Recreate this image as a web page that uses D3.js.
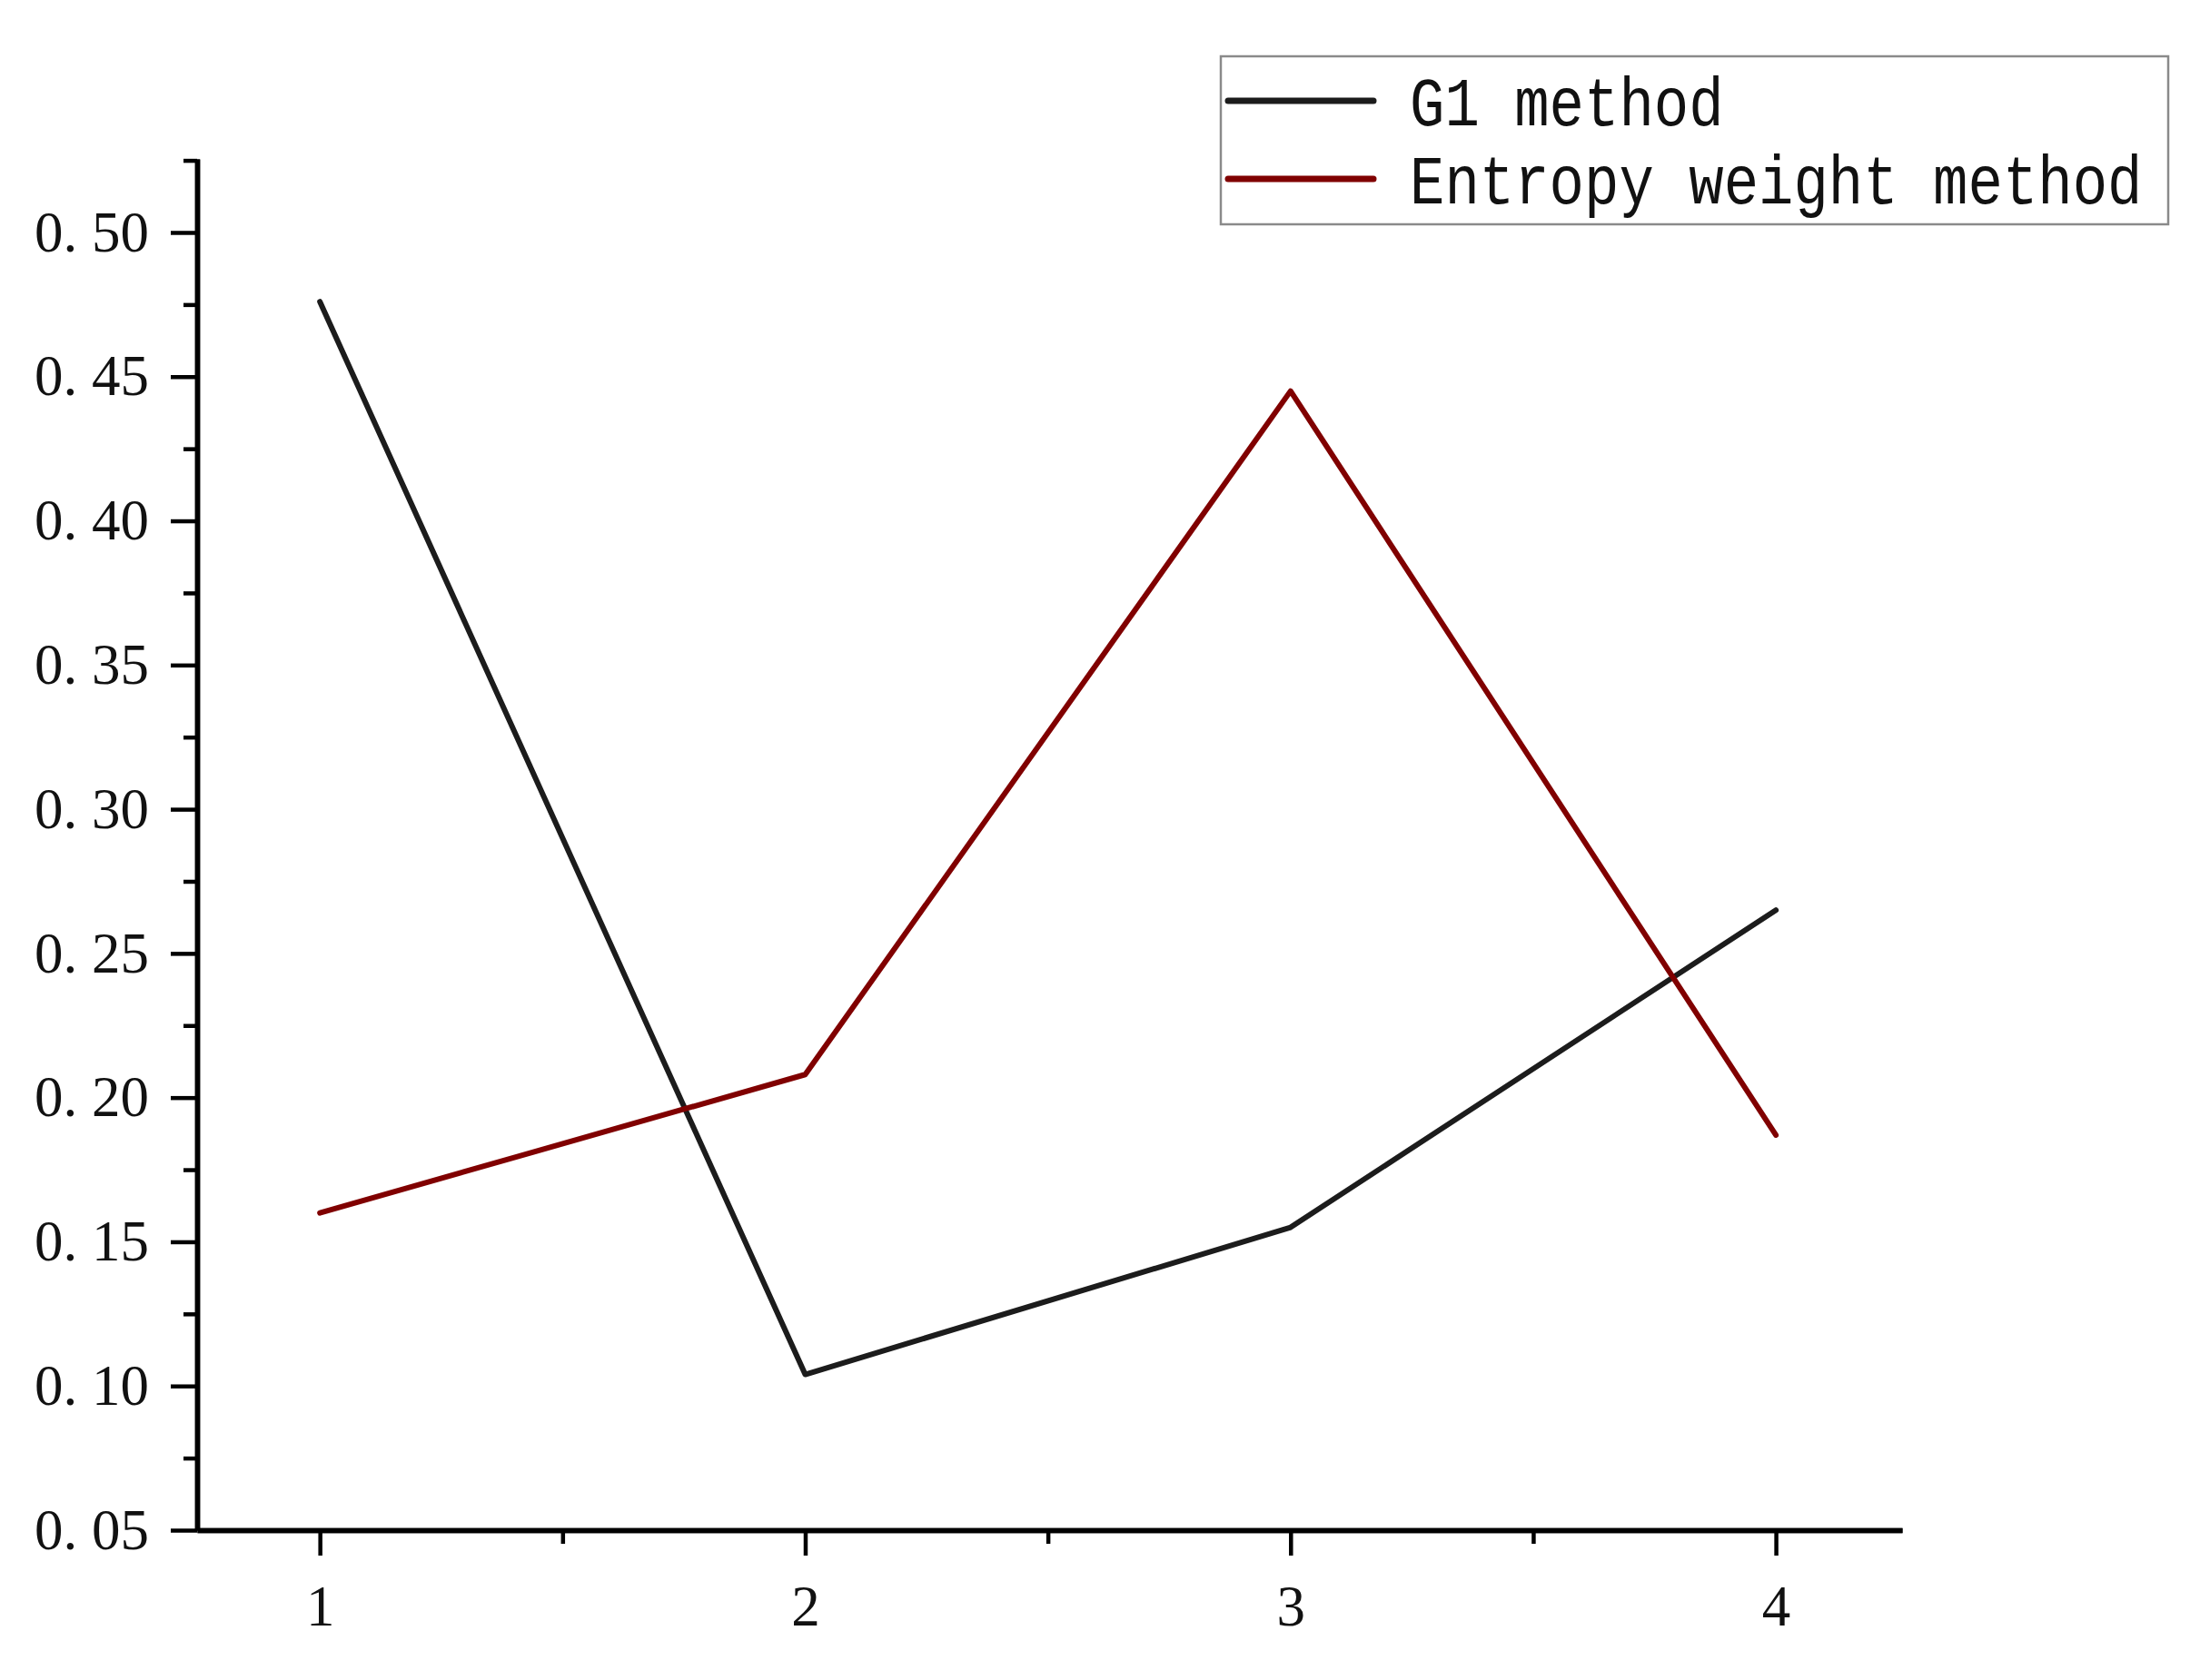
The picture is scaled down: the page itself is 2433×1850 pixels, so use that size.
<!DOCTYPE html>
<html>
<head>
<meta charset="utf-8">
<script src="https://cdn.jsdelivr.net/npm/d3@7"></script>
<style>
  body { margin: 0; background: #fff; }
  svg { display: block; }
</style>
</head>
<body>
<div id="chart"></div>
<script>
// data
const categories = [1, 2, 3, 4];
const g1Values = [0.476, 0.104, 0.155, 0.265];
const entropyValues = [0.160, 0.208, 0.445, 0.187];
const seriesNames = ['G1 method', 'Entropy weight method'];
const yTicks = [0.05, 0.10, 0.15, 0.20, 0.25, 0.30, 0.35, 0.40, 0.45, 0.50];
const yMinorTicks = [0.075, 0.125, 0.175, 0.225, 0.275, 0.325, 0.375, 0.425, 0.475, 0.525];
const xMinorTicks = [1.5, 2.5, 3.5];

const width = 2433, height = 1850;

const svg = d3.select('#chart').append('svg')
  .attr('width', width)
  .attr('height', height);

const x = d3.scaleLinear().domain([0.747, 4.26]).range([217, 2094]);
const y = d3.scaleLinear().domain([0.05, 0.5255]).range([1685, 175]);

const fmt = (d) => d3.format('.2f')(d).replace('.', '. ');

// minor ticks first, then major axes on top
svg.append('g')
  .attr('class', 'y minor')
  .attr('transform', 'translate(' + x.range()[0] + ',0)')
  .call(d3.axisLeft(y).tickValues(yMinorTicks).tickSize(15).tickSizeOuter(0).tickFormat(''));

svg.append('g')
  .attr('class', 'x minor')
  .attr('transform', 'translate(0,' + y.range()[0] + ')')
  .call(d3.axisBottom(x).tickValues(xMinorTicks).tickSize(15).tickSizeOuter(0).tickFormat(''));

svg.append('g')
  .attr('class', 'y axis')
  .attr('transform', 'translate(' + x.range()[0] + ',0)')
  .call(d3.axisLeft(y).tickValues(yTicks).tickSize(29).tickSizeOuter(0).tickPadding(24).tickFormat(fmt));

svg.append('g')
  .attr('class', 'x axis')
  .attr('transform', 'translate(0,' + y.range()[0] + ')')
  .call(d3.axisBottom(x).tickValues(categories).tickSize(28).tickSizeOuter(0).tickPadding(32).tickFormat(d3.format('d')));

svg.selectAll('.domain')
  .attr('stroke', '#000')
  .attr('stroke-width', 5.5);
svg.selectAll('.tick line')
  .attr('stroke', '#000')
  .attr('stroke-width', 4.5);
svg.selectAll('.axis text')
  .attr('fill', '#111')
  .style('font-family', '"Liberation Serif", "DejaVu Serif", serif')
  .style('font-size', '63px');

// lines
const line = d3.line()
  .x((d, i) => x(categories[i]))
  .y((d) => y(d));

const series = [
  {name: seriesNames[0], values: g1Values, color: '#1c1c1c'},
  {name: seriesNames[1], values: entropyValues, color: '#800000'}
];

svg.selectAll('.series')
  .data(series)
  .enter().append('path')
  .attr('class', 'series')
  .attr('d', (d) => line(d.values))
  .attr('fill', 'none')
  .attr('stroke', (d) => d.color)
  .attr('stroke-width', 6)
  .attr('stroke-linejoin', 'round')
  .attr('stroke-linecap', 'round');

// legend
const legend = svg.append('g').attr('class', 'legend');
legend.append('rect')
  .attr('x', 1344)
  .attr('y', 62)
  .attr('width', 1043)
  .attr('height', 185)
  .attr('fill', '#fff')
  .attr('stroke', '#8a8a8a')
  .attr('stroke-width', 2.5);

const item = legend.selectAll('.item')
  .data(series)
  .enter().append('g')
  .attr('class', 'item')
  .attr('transform', (d, i) => 'translate(1352,' + (111 + i * 86) + ')');

item.append('line')
  .attr('x1', 0)
  .attr('x2', 160)
  .attr('stroke', (d) => d.color)
  .attr('stroke-width', 7)
  .attr('stroke-linecap', 'round');

// tall, narrow monospace like the original: stretch vertically only
item.append('text')
  .attr('transform', 'translate(200,0) scale(1,1.2)')
  .attr('dy', '0.35em')
  .attr('fill', '#111')
  .style('font-family', '"Liberation Mono", "DejaVu Sans Mono", monospace')
  .style('font-size', '64px')
  .text((d) => d.name);
</script>
</body>
</html>
